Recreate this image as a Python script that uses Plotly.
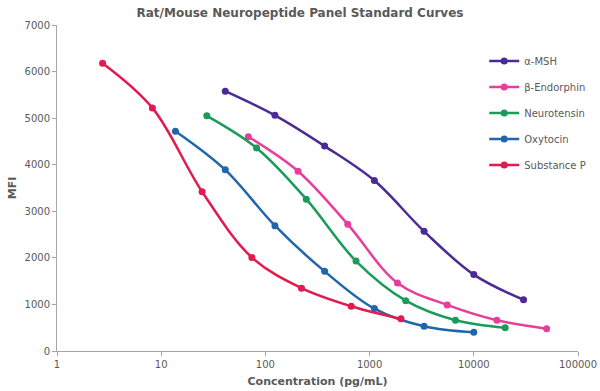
import plotly.graph_objects as go

conc_amsh = [41.2, 123.5, 370.4, 1111, 3333, 10000, 30000]
mfi_amsh = [5580, 5060, 4400, 3660, 2570, 1640, 1100]

conc_bend = [68.6, 205.8, 617.3, 1852, 5556, 16667, 50000]
mfi_bend = [4600, 3860, 2720, 1460, 990, 660, 480]

conc_neuro = [27.4, 82.3, 246.9, 740.7, 2222, 6667, 20000]
mfi_neuro = [5050, 4360, 3260, 1930, 1080, 660, 500]

conc_oxy = [13.7, 41.2, 123.5, 370.4, 1111, 3333, 10000]
mfi_oxy = [4720, 3890, 2690, 1710, 910, 530, 400]

conc_subp = [2.74, 8.23, 24.7, 74.1, 222.2, 666.7, 2000]
mfi_subp = [6180, 5220, 3420, 2010, 1350, 960, 690]

series_names = ["α-MSH", "β-Endorphin", "Neurotensin", "Oxytocin", "Substance P"]
series_colors = ["#4B2A95", "#E83E9B", "#1A9B5A", "#1F66AD", "#E21A4F"]
series_x = [conc_amsh, conc_bend, conc_neuro, conc_oxy, conc_subp]
series_y = [mfi_amsh, mfi_bend, mfi_neuro, mfi_oxy, mfi_subp]

x_tickvals = [1, 10, 100, 1000, 10000, 100000]
x_ticktext = ["1", "10", "100", "1000", "10000", "100000"]

FONT = "DejaVu Sans"
GRAY = "#595959"

fig = go.Figure()
for i, (name, color, xs, ys) in enumerate(zip(series_names, series_colors, series_x, series_y)):
    fig.add_trace(go.Scatter(
        x=xs, y=ys, name=name, mode="lines+markers",
        line=dict(color=color, width=2.5, shape="spline", smoothing=1),
        marker=dict(color=color, size=7),
        legendgroup=f"g{i}",
    ))

fig.update_layout(
    width=600, height=391,
    paper_bgcolor="white", plot_bgcolor="white",
    margin=dict(l=57, r=22, t=25, b=40, autoexpand=False),
    font=dict(family=FONT, size=10, color=GRAY),
    title=dict(text="<b>Rat/Mouse Neuropeptide Panel Standard Curves</b>",
               x=0.5, xanchor="center", y=0.968, yanchor="middle",
               font=dict(family=FONT, size=12, color=GRAY)),
    showlegend=True,
    legend=dict(x=0.82, y=0.934, xanchor="left", yanchor="top",
                traceorder="grouped", tracegroupgap=7,
                itemwidth=30, bgcolor="rgba(0,0,0,0)",
                font=dict(family=FONT, size=10, color=GRAY)),
    xaxis=dict(type="log", range=[0, 5], tickvals=x_tickvals, ticktext=x_ticktext,
               automargin=False,
               showgrid=False, zeroline=False, showline=True, linecolor="#A6A6A6", linewidth=1,
               ticks="outside", ticklen=4, tickcolor="#A6A6A6",
               title=dict(text="<b>Concentration (pg/mL)</b>", standoff=8,
                          font=dict(family=FONT, size=11, color=GRAY))),
    yaxis=dict(range=[0, 7000], dtick=1000, tick0=0,
               automargin=False,
               showgrid=False, zeroline=False, showline=True, linecolor="#A6A6A6", linewidth=1,
               ticks="outside", ticklen=4, tickcolor="#A6A6A6",
               title=dict(text="<b>MFI</b>", standoff=5,
                          font=dict(family=FONT, size=11, color=GRAY))),
)

fig.write_html("out.html", config={"displayModeBar": False},
               post_script="document.body.style.margin='0';")
